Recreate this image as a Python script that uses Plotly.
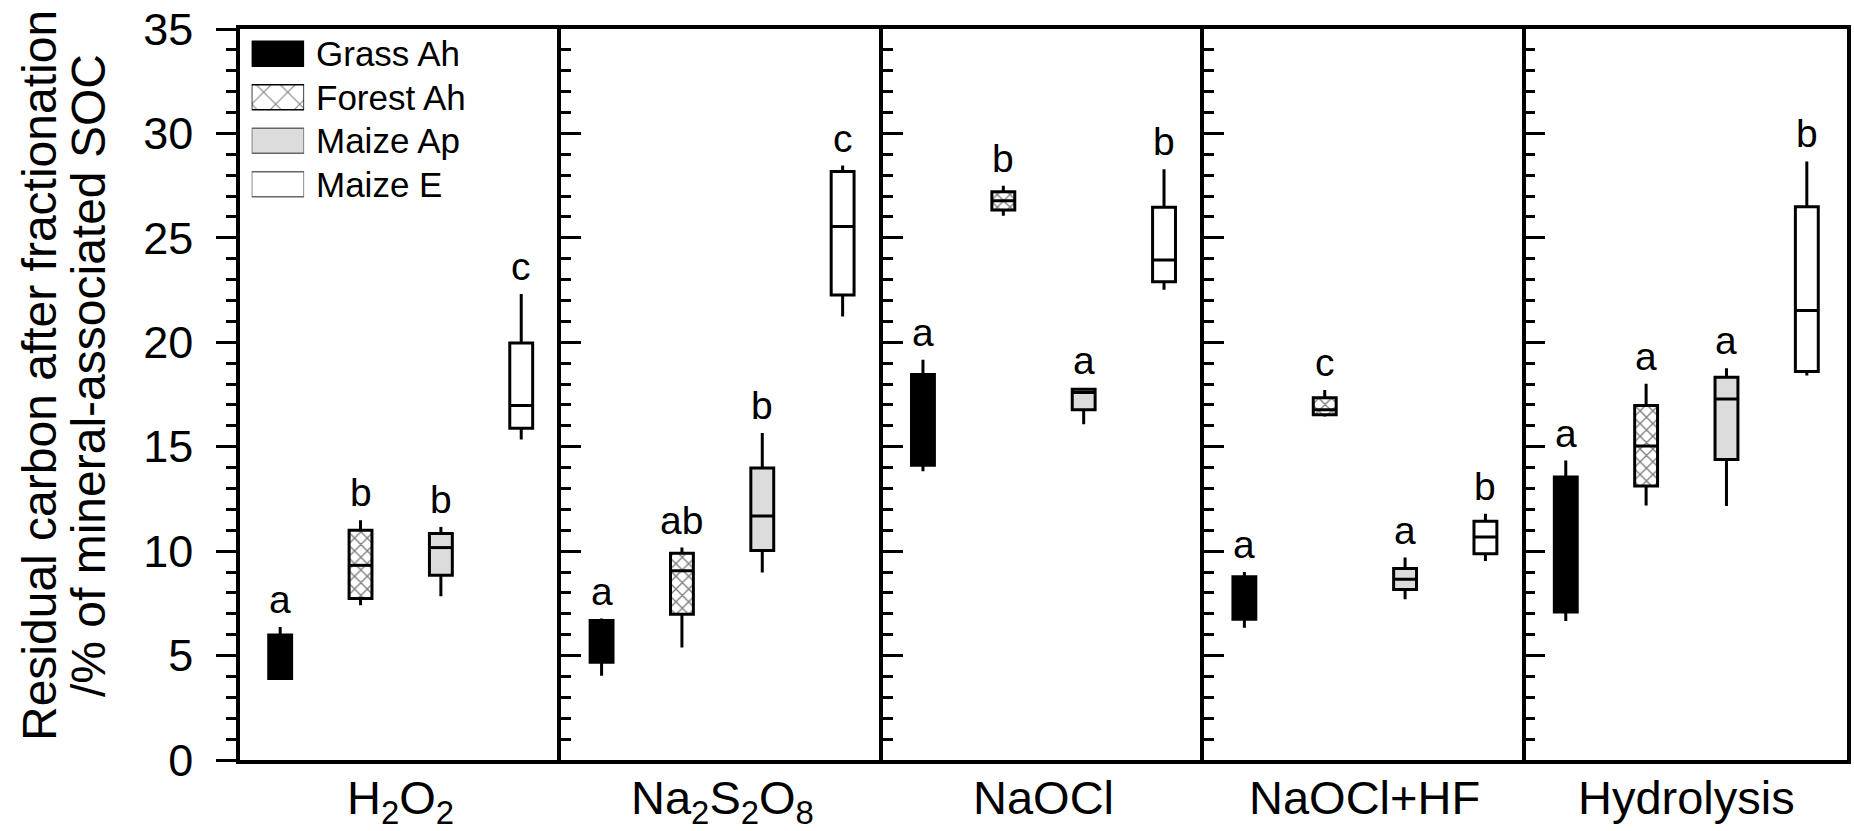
import plotly.graph_objects as go

# ---------------- data ----------------
treatments = ["H<sub>2</sub>O<sub>2</sub>", "Na<sub>2</sub>S<sub>2</sub>O<sub>8</sub>",
              "NaOCl", "NaOCl+HF", "Hydrolysis"]
soils = ["Grass Ah", "Forest Ah", "Maize Ap", "Maize E"]

grass_lo = [3.83, 4.03, 13.83, 6.33, 6.66]
grass_q1 = [3.90, 4.68, 14.11, 6.74, 7.09]
grass_med = [4.60, 5.50, 16.07, 7.70, 10.50]
grass_q3 = [5.98, 6.68, 18.46, 8.77, 13.55]
grass_hi = [6.37, 6.77, 19.16, 9.00, 14.34]
grass_letters = ["a", "a", "a", "a", "a"]

forest_lo = [7.41, 5.39, 26.06, 16.45, 12.19]
forest_q1 = [7.73, 6.98, 26.33, 16.53, 13.12]
forest_med = [9.32, 9.06, 26.78, 16.77, 15.03]
forest_q3 = [11.00, 9.90, 27.21, 17.34, 16.97]
forest_hi = [11.48, 10.17, 27.49, 17.72, 18.01]
forest_letters = ["b", "ab", "b", "c", "a"]

maizeap_lo = [7.84, 8.98, 16.07, 7.70, 12.16]
maizeap_q1 = [8.85, 10.03, 16.77, 8.16, 14.39]
maizeap_med = [10.17, 11.68, 17.60, 8.65, 17.29]
maizeap_q3 = [10.84, 13.98, 17.75, 9.17, 18.33]
maizeap_hi = [11.16, 15.66, 17.80, 9.69, 18.76]
maizeap_letters = ["b", "b", "a", "a", "a"]

maizee_lo = [15.35, 21.24, 22.52, 9.53, 18.41]
maizee_q1 = [15.89, 22.26, 22.90, 9.88, 18.60]
maizee_med = [16.97, 25.54, 23.94, 10.68, 21.52]
maizee_q3 = [19.96, 28.18, 26.46, 11.43, 26.49]
maizee_hi = [22.31, 28.46, 28.29, 11.79, 28.66]
maizee_letters = ["c", "c", "b", "b", "b"]

y_ticks = [0, 5, 10, 15, 20, 25, 30, 35]

series = {
    "Grass Ah": (grass_lo, grass_q1, grass_med, grass_q3, grass_hi, grass_letters),
    "Forest Ah": (forest_lo, forest_q1, forest_med, forest_q3, forest_hi, forest_letters),
    "Maize Ap": (maizeap_lo, maizeap_q1, maizeap_med, maizeap_q3, maizeap_hi, maizeap_letters),
    "Maize E": (maizee_lo, maizee_q1, maizee_med, maizee_q3, maizee_hi, maizee_letters),
}

# ---------------- styles ----------------
FONT = "Liberation Sans, Arial, Helvetica, sans-serif"
styles = {
    "Grass Ah": dict(fill="#000000", pattern="", swatch_line="#000000"),
    "Forest Ah": dict(fill="#ffffff", pattern="x", swatch_line="#000000"),
    "Maize Ap": dict(fill="#dcdcdc", pattern="", swatch_line="#666666"),
    "Maize E": dict(fill="#ffffff", pattern="", swatch_line="#666666"),
}
BOX_W = 0.285
LW = 3.0
n_panels = len(treatments)

fig = go.Figure()
annotations = []

for i in range(n_panels):
    xa = "x" if i == 0 else f"x{i+1}"
    ya = "y" if i == 0 else f"y{i+1}"
    for s, soil in enumerate(soils):
        lo, q1, med, q3, hi, letters = series[soil]
        st = styles[soil]
        pos = s + 0.5
        # whiskers
        fig.add_trace(go.Scatter(
            x=[pos, pos, None, pos, pos], y=[q3[i], hi[i], None, q1[i], lo[i]],
            mode="lines", line=dict(color="black", width=LW),
            xaxis=xa, yaxis=ya, showlegend=False, hoverinfo="skip"))
        # box
        fig.add_trace(go.Bar(
            x=[pos], y=[q3[i] - q1[i]], base=[q1[i]], width=[BOX_W],
            marker=dict(color=st["fill"], line=dict(color="black", width=LW),
                        pattern=dict(shape=st["pattern"], fgcolor="black",
                                     bgcolor=st["fill"], size=9, solidity=0.28)),
            xaxis=xa, yaxis=ya, showlegend=False, hoverinfo="skip"))
        # median
        fig.add_trace(go.Scatter(
            x=[pos - BOX_W / 2, pos + BOX_W / 2], y=[med[i], med[i]],
            mode="lines", line=dict(color="black", width=LW),
            xaxis=xa, yaxis=ya, showlegend=False, hoverinfo="skip"))
        # significance letter
        annotations.append(dict(
            x=pos, y=hi[i], xref=xa, yref=ya, text=letters[i], showarrow=False,
            xanchor="center", yanchor="bottom", yshift=4,
            font=dict(family=FONT, size=39, color="black")))
    # panel label
    annotations.append(dict(
        x=0.5, y=0, xref=f"{xa} domain", yref="paper", text=treatments[i],
        showarrow=False, xanchor="center", yanchor="top", yshift=-9,
        font=dict(family=FONT, size=47, color="black")))

# ---------------- legend (own small axis) ----------------
for k, soil in enumerate(soils):
    st = styles[soil]
    fig.add_trace(go.Bar(
        x=[1], y=[k], base=[0], orientation="h", width=[0.577],
        marker=dict(color=st["fill"], line=dict(color=st["swatch_line"], width=1.5),
                    pattern=dict(shape=st["pattern"], fgcolor="black",
                                 bgcolor=st["fill"], size=17, solidity=0.12)),
        xaxis="x6", yaxis="y6", showlegend=False, hoverinfo="skip"))
    annotations.append(dict(
        x=1, y=k, xref="x6", yref="y6", text=soil, showarrow=False,
        xanchor="left", yanchor="middle", xshift=10,
        font=dict(family=FONT, size=35, color="black")))

# ---------------- axis title ----------------
annotations.append(dict(
    x=0, y=0.5253, xref="paper", yref="paper", xshift=-201,
    text="Residual carbon after fractionation", textangle=-90, showarrow=False,
    xanchor="center", yanchor="middle", font=dict(family=FONT, size=48, color="black")))
annotations.append(dict(
    x=0, y=0.5253, xref="paper", yref="paper", xshift=-152,
    text="/% of mineral-associated SOC", textangle=-90, showarrow=False,
    xanchor="center", yanchor="middle", font=dict(family=FONT, size=48, color="black")))

layout = dict(
    width=1854, height=831,
    margin=dict(l=240, r=3, t=29, b=71, pad=0),
    paper_bgcolor="white", plot_bgcolor="white",
    barmode="overlay", showlegend=False,
    annotations=annotations,
    font=dict(family=FONT, color="black"),
)

for i in range(n_panels):
    xk = "xaxis" if i == 0 else f"xaxis{i+1}"
    yk = "yaxis" if i == 0 else f"yaxis{i+1}"
    anchor_y = "y" if i == 0 else f"y{i+1}"
    anchor_x = "x" if i == 0 else f"x{i+1}"
    layout[xk] = dict(
        domain=[i / n_panels, (i + 1) / n_panels], range=[0, 4], anchor=anchor_y,
        showline=True, linecolor="black", linewidth=3.5, mirror=True,
        showticklabels=False, ticks="", showgrid=False, zeroline=False, fixedrange=True)
    tick_dir = "outside" if i == 0 else "inside"
    layout[yk] = dict(
        domain=[0, 1], range=[0, 35], anchor=anchor_x,
        showline=True, linecolor="black", linewidth=3.5, mirror=(i == n_panels - 1),
        tickmode="array", tickvals=y_ticks, ticktext=[str(v) for v in y_ticks],
        ticks=tick_dir, ticklen=20, tickwidth=3, tickcolor="black",
        showticklabels=(i == 0), ticklabelstandoff=14,
        tickfont=dict(family=FONT, size=45, color="black"),
        minor=dict(dtick=1, tick0=0, ticks=tick_dir, ticklen=10, tickwidth=3,
                   tickcolor="black", showgrid=False),
        showgrid=False, zeroline=False, fixedrange=True)

layout["xaxis6"] = dict(domain=[0.00726, 0.0399], range=[0, 1], anchor="y6",
                        visible=False, fixedrange=True)
layout["yaxis6"] = dict(domain=[0.7579, 0.9958], range=[3.5, -0.5], anchor="x6",
                        visible=False, fixedrange=True)

fig.update_layout(**layout)

fig.write_html("out.html", config={"displayModeBar": False},
               post_script="document.body.style.margin='0';document.body.style.overflow='hidden';")
